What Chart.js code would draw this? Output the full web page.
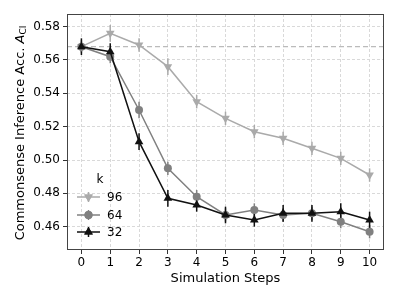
<!DOCTYPE html>
<html>
<head>
<meta charset="utf-8">
<script src="https://cdn.jsdelivr.net/npm/chart.js@4.4.1/dist/chart.umd.min.js"></script>
<style>
html,body{margin:0;padding:0;background:#fff;}
#wrap{width:399px;height:299px;position:relative;}
</style>
</head>
<body>
<div id="wrap"><canvas id="c" width="399" height="299"></canvas></div>
<script>
const steps = [0,1,2,3,4,5,6,7,8,9,10];
const seriesLabels = ['96','64','32'];
const acc96 = [0.568,0.576,0.569,0.556,0.535,0.525,0.517,0.513,0.507,0.501,0.491];
const acc64 = [0.568,0.562,0.530,0.495,0.478,0.467,0.470,0.467,0.468,0.463,0.457];
const acc32 = [0.568,0.565,0.511,0.477,0.473,0.467,0.464,0.468,0.468,0.469,0.464];
const err96 = [0.004,0.005,0.004,0.005,0.004,0.004,0.004,0.004,0.004,0.004,0.004];
const err64 = [0.003,0.004,0.005,0.004,0.004,0.004,0.004,0.004,0.004,0.004,0.004];
const err32 = [0.005,0.005,0.005,0.005,0.004,0.005,0.004,0.005,0.005,0.005,0.005];
const yTicks = [0.46,0.48,0.50,0.52,0.54,0.56,0.58];
const xTicks = [0,1,2,3,4,5,6,7,8,9,10];
const baseline = 0.568;

const FONT = "'DejaVu Sans', sans-serif";
const colors = ['#aaaaaa','#808080','#111111'];
const styles = ['triangle','circle','triangle'];
const rotations = [180,0,0];
const dataArr = [acc96, acc64, acc32];
const errArr = [err96, err64, err32];

const datasets = dataArr.map((arr,i)=>({
  label: seriesLabels[i],
  data: steps.map((s,j)=>({x:s,y:arr[j]})),
  err: errArr[i],
  borderColor: colors[i],
  backgroundColor: colors[i],
  borderWidth: 1.5,
  pointStyle: styles[i],
  rotation: rotations[i],
  pointRadius: i===1 ? 4 : 5,
  pointBorderWidth: 0,
  tension: 0,
  order: 2-i
}));

const extras = {
  id:'extras',
  beforeDatasetsDraw(chart){
    const {ctx, chartArea:a, scales:{x,y}} = chart;
    ctx.save();
    ctx.strokeStyle='#bbbbbb'; ctx.lineWidth=1.3; ctx.setLineDash([5,3]);
    const by = y.getPixelForValue(baseline);
    ctx.beginPath(); ctx.moveTo(a.left,by); ctx.lineTo(a.right,by); ctx.stroke();
    ctx.setLineDash([]);
    chart.data.datasets.forEach(ds=>{
      ctx.strokeStyle=ds.borderColor; ctx.lineWidth=1.5;
      ds.data.forEach((p,j)=>{
        const px=x.getPixelForValue(p.x);
        ctx.beginPath();
        ctx.moveTo(px,y.getPixelForValue(p.y-ds.err[j]));
        ctx.lineTo(px,y.getPixelForValue(p.y+ds.err[j]));
        ctx.stroke();
      });
    });
    ctx.restore();
  },
  afterDraw(chart){
    const {ctx, chartArea:a} = chart;
    ctx.save();
    ctx.strokeStyle='#444444'; ctx.lineWidth=1;
    ctx.strokeRect(a.left+0.5,a.top+0.5,a.right-a.left-1,a.bottom-a.top-1);
    ctx.fillStyle='#000';
    ctx.translate(21,133);
    ctx.rotate(-Math.PI/2);
    const main='Commonsense Inference Acc. ';
    const fs=13;
    ctx.font=fs+"px "+FONT;
    const w1=ctx.measureText(main).width;
    ctx.font="italic "+fs+"px "+FONT;
    const w2=ctx.measureText('A').width;
    ctx.font="9px "+FONT;
    const w3=ctx.measureText('CI').width;
    const tot=w1+w2+w3;
    let sx=-tot/2;
    ctx.textBaseline='middle'; ctx.textAlign='left';
    ctx.font=fs+"px "+FONT; ctx.fillText(main,sx,0); sx+=w1;
    ctx.font="italic "+fs+"px "+FONT; ctx.fillText('A',sx,0); sx+=w2;
    ctx.font="9px "+FONT; ctx.fillText('CI',sx,3);
    ctx.restore();
    ctx.save();
    ctx.font="12px "+FONT; ctx.fillStyle='#000'; ctx.textBaseline='middle'; ctx.textAlign='center';
    ctx.fillText('k',100,180);
    const ys=[197,215,232];
    chart.data.datasets.forEach((ds,i)=>{
      const yy=ys[i];
      ctx.strokeStyle=ds.borderColor; ctx.lineWidth=1.5;
      ctx.beginPath(); ctx.moveTo(77,yy); ctx.lineTo(100,yy); ctx.stroke();
      ctx.beginPath(); ctx.moveTo(88.5,yy-5); ctx.lineTo(88.5,yy+5); ctx.stroke();
      ctx.fillStyle=ds.backgroundColor;
      Chart.helpers.drawPoint(ctx,{pointStyle:ds.pointStyle,rotation:ds.rotation,radius:ds.pointRadius,borderWidth:0},88.5,yy);
      ctx.fill();
      ctx.fillStyle='#000'; ctx.textAlign='left';
      ctx.fillText(ds.label,107,yy+1);
    });
    ctx.restore();
  }
};

new Chart(document.getElementById('c'),{
  type:'line',
  data:{datasets},
  options:{
    responsive:false,
    animation:false,
    devicePixelRatio:1,
    layout:{padding:{top:14,right:15,left:0,bottom:13}},
    plugins:{legend:{display:false},tooltip:{enabled:false}},
    scales:{
      x:{
        type:'linear', min:-0.5, max:10.5,
        afterBuildTicks(s){ s.ticks = xTicks.map(v=>({value:v})); },
        afterFit(s){ s.height=36; },
        grid:{color:'#d9d9d9', lineWidth:1, drawTicks:true, tickLength:4, tickColor:'#333'},
        border:{display:false, dash:[3,2]},
        ticks:{color:'#000', font:{family:FONT,size:12}, padding:2, maxRotation:0, autoSkip:false},
        title:{display:true, text:'Simulation Steps', color:'#000', font:{family:FONT,size:13}, padding:{top:0,bottom:0}}
      },
      y:{
        type:'linear', min:0.446, max:0.5876,
        afterBuildTicks(s){ s.ticks = yTicks.map(v=>({value:v})); },
        afterFit(s){ s.width=67; },
        grid:{color:'#d9d9d9', lineWidth:1, drawTicks:true, tickLength:4, tickColor:'#333'},
        border:{display:false, dash:[3,2]},
        ticks:{color:'#000', font:{family:FONT,size:12}, padding:3, callback:v=>v.toFixed(2)}
      }
    }
  },
  plugins:[extras]
});
</script>
</body>
</html>
